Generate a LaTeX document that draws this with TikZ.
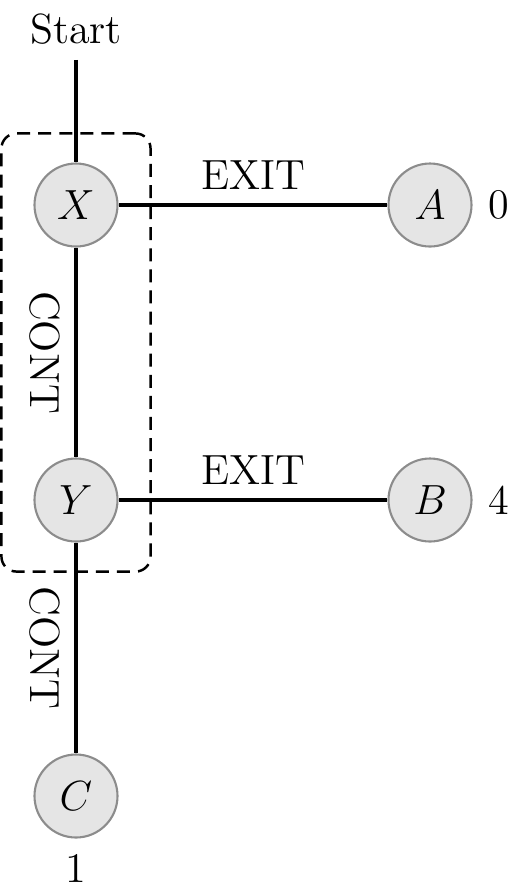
\documentclass[tikz,12pt,border=0pt]{standalone}
\usetikzlibrary{fit}
\begin{document}
\begin{tikzpicture}[line width=1.1pt,
  state/.style={circle,draw=black!45,line width=0.6pt,fill=black!10,minimum size=0.83cm,inner sep=0pt},
  group/.style={draw,line width=0.7pt,dash pattern=on 3.7pt off 2.3pt,rounded corners=0.15cm}]
  \useasboundingbox (0,0) rectangle (5.26,-8.94);
  \node (start) [anchor=base,inner sep=4pt] at (0.76,-0.43) {Start};
  \node[state] (X) at (0.76,-2.05) {$X$};
  \node[state] (Y) at (0.76,-5.00) {$Y$};
  \node[state] (C) at (0.76,-7.96) {$C$};
  \node[state] (A) at (4.30,-2.05) {$A$};
  \node[state] (B) at (4.30,-5.00) {$B$};
  \node[group,fit=(X)(Y),inner xsep=0.32cm,inner ysep=0.29cm] (XY) {};
  \draw (start) -- (X);
  \draw (X) -- node[above] {EXIT} (A);
  \draw (Y) -- node[above] {EXIT} (B);
  \draw (X) -- node[rotate=-90,anchor=north] {CONT} (Y);
  \draw (Y) -- node[rotate=-90,anchor=north] {CONT} (C);
  \node (valA) [right] at (A.east) {0};
  \node (valB) [right] at (B.east) {4};
  \node (valC) [below] at (C.south) {1};
\end{tikzpicture}
\end{document}
